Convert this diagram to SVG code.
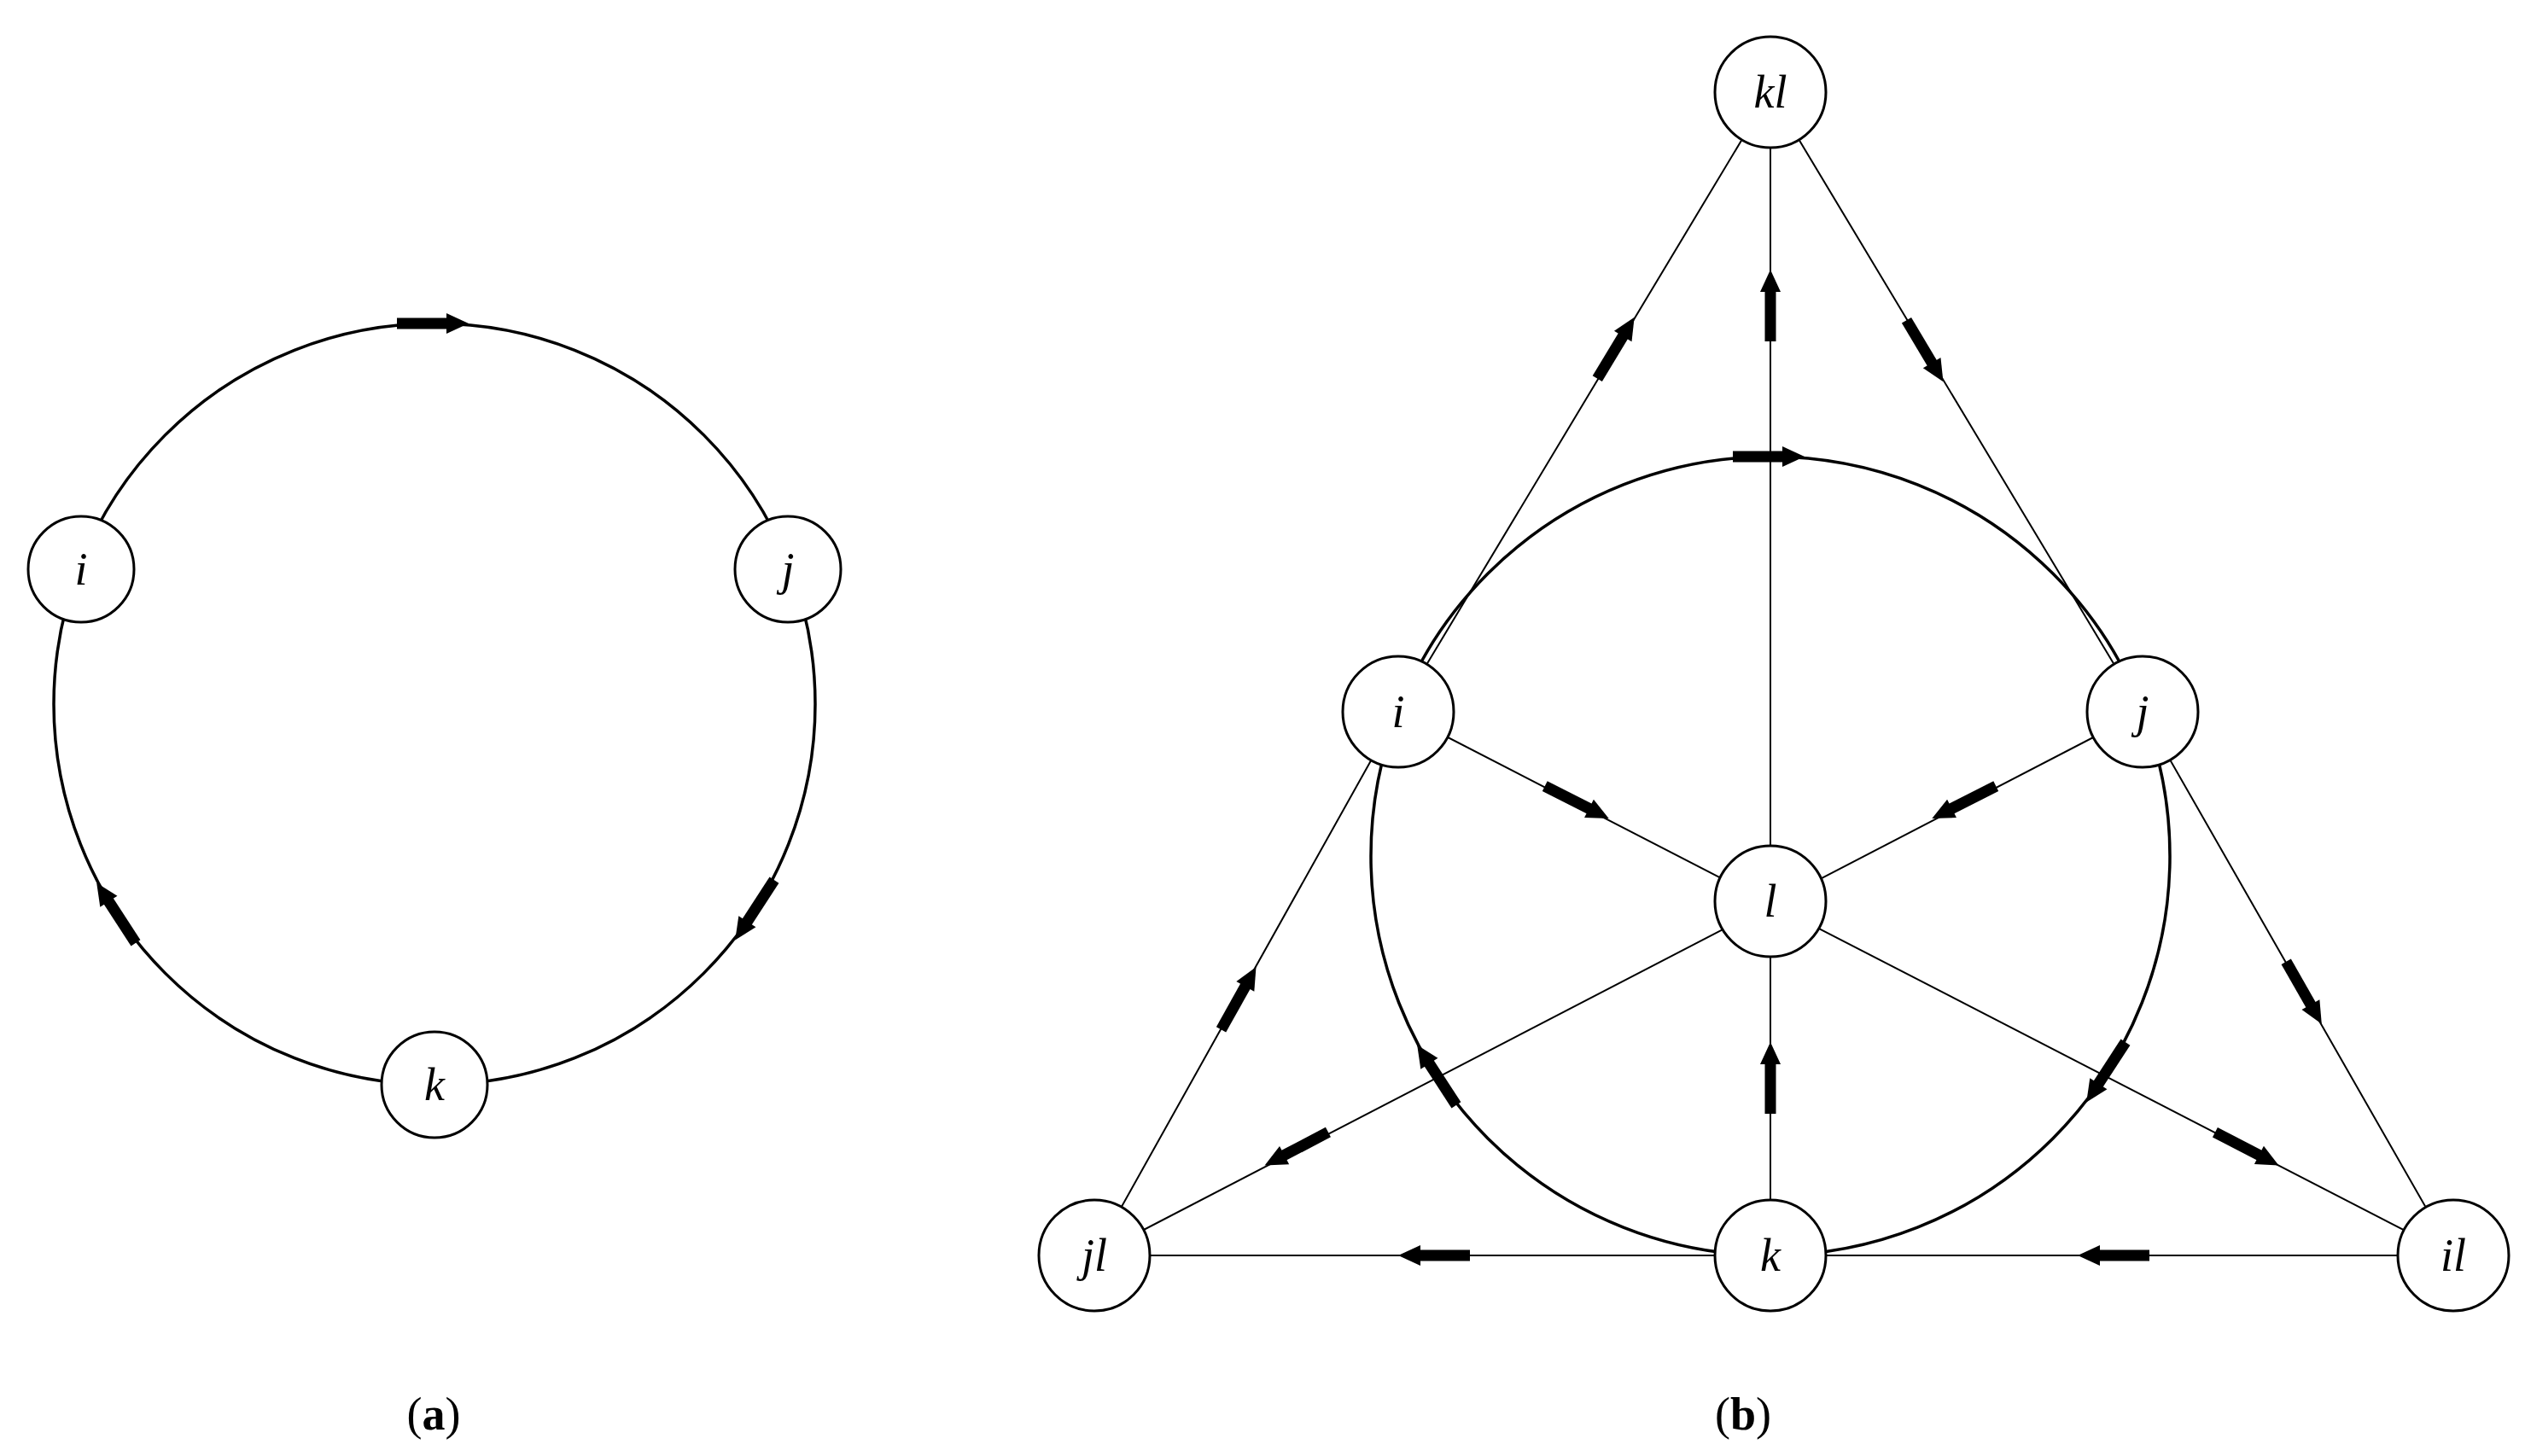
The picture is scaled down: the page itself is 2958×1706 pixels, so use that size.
<svg xmlns="http://www.w3.org/2000/svg" xmlns:xlink="http://www.w3.org/1999/xlink" width="2958" height="1706" viewBox="0 0 2958 1706">
<style>
.n{fill:#fff;stroke:#000;stroke-width:3}
.t{font-family:"Liberation Serif",serif;font-style:italic;font-size:54px;text-anchor:middle;dominant-baseline:central}
.c{fill:none;stroke:#000;stroke-width:3.5}
.e{stroke:#000;stroke-width:2;fill:none}
.cap{font-family:"Liberation Serif",serif;font-size:54px;text-anchor:middle}
</style>
<defs>
<g id="ar"><rect x="-44" y="-6.5" width="62" height="13" fill="#000"/><polygon points="14,-12 40,0 14,12" fill="#000"/></g>
</defs>
<g id="connectors">
<circle class="c" cx="509" cy="825" r="446"/>
<circle class="c" cx="2074" cy="1003" r="468"/>
<path class="e" d="M1638,834 L2074,108 L2510,834 M1638,834 L1282,1471 L2874,1471 L2510,834 M2074,108 L2074,1471 M1638,834 L2874,1471 M2510,834 L1282,1471"/>
<use href="#ar" transform="translate(509,379)"/>
<use href="#ar" transform="translate(883,1068) rotate(123)"/>
<use href="#ar" transform="translate(135,1068) rotate(237)"/>
<use href="#ar" transform="translate(2074,535)"/>
<use href="#ar" transform="translate(2466,1258) rotate(123)"/>
<use href="#ar" transform="translate(1682,1258) rotate(237)"/>
<use href="#ar" transform="translate(1894,406) rotate(-58.9)"/>
<use href="#ar" transform="translate(2256,413) rotate(59.2)"/>
<use href="#ar" transform="translate(2074,356) rotate(-90)"/>
<use href="#ar" transform="translate(2074,1261) rotate(-90)"/>
<use href="#ar" transform="translate(1849,941) rotate(26.9)"/>
<use href="#ar" transform="translate(2299,941) rotate(153.1)"/>
<use href="#ar" transform="translate(1517,1347) rotate(152.3)"/>
<use href="#ar" transform="translate(2634,1347) rotate(27.4)"/>
<use href="#ar" transform="translate(1452,1168) rotate(-60.8)"/>
<use href="#ar" transform="translate(2700,1165) rotate(60.3)"/>
<use href="#ar" transform="translate(2474,1471) rotate(180)"/>
<use href="#ar" transform="translate(1678,1471) rotate(180)"/>
</g>
<g id="a-i"><circle class="n" cx="95" cy="667" r="62"/><text class="t" x="95" y="667">i</text></g>
<g id="a-j"><circle class="n" cx="923" cy="667" r="62"/><text class="t" x="923" y="667">j</text></g>
<g id="a-k"><circle class="n" cx="509" cy="1271" r="62"/><text class="t" x="509" y="1271">k</text></g>
<g id="b-kl"><circle class="n" cx="2074" cy="108" r="65"/><text class="t" x="2074" y="108">kl</text></g>
<g id="b-i"><circle class="n" cx="1638" cy="834" r="65"/><text class="t" x="1638" y="834">i</text></g>
<g id="b-j"><circle class="n" cx="2510" cy="834" r="65"/><text class="t" x="2510" y="834">j</text></g>
<g id="b-l"><circle class="n" cx="2074" cy="1056" r="65"/><text class="t" x="2074" y="1056">l</text></g>
<g id="b-jl"><circle class="n" cx="1282" cy="1471" r="65"/><text class="t" x="1282" y="1471">jl</text></g>
<g id="b-k"><circle class="n" cx="2074" cy="1471" r="65"/><text class="t" x="2074" y="1471">k</text></g>
<g id="b-il"><circle class="n" cx="2874" cy="1471" r="65"/><text class="t" x="2874" y="1471">il</text></g>
<text class="cap" x="508" y="1675">(<tspan font-weight="bold">a</tspan>)</text>
<text class="cap" x="2042" y="1675">(<tspan font-weight="bold">b</tspan>)</text>
</svg>
